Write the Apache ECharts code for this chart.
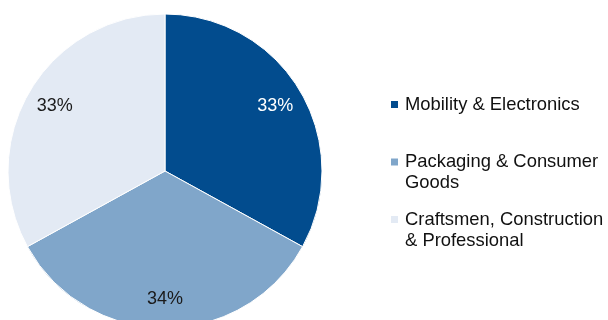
<!DOCTYPE html>
<html>
<head>
<meta charset="utf-8">
<script src="https://cdn.jsdelivr.net/npm/echarts@6/dist/echarts.min.js"></script>
<style>
  html, body { margin: 0; padding: 0; background: #fff; }
  #chart { width: 608px; height: 320px; }
</style>
</head>
<body>
<div id="chart"></div>
<script>
// Segment share of the business, in percent
const segments = ['Mobility & Electronics', 'Packaging & Consumer Goods', 'Craftsmen, Construction & Professional'];
const shares = [33, 34, 33];
// Legend text broken over two lines
const legendLines = [
  ['Mobility & Electronics', ' '],
  ['Packaging & Consumer', 'Goods'],
  ['Craftsmen, Construction', '& Professional']
];
const colors = ['#024c8e', '#80a6ca', '#e3eaf4'];
const labelColors = ['#ffffff', '#1a1a1a', '#1a1a1a'];

const FONT = 'Liberation Sans, Arial, Helvetica, sans-serif';
const FS = 18.4;

function sliceData(withLabels) {
  return segments.map((name, i) => ({
    name: name,
    value: shares[i],
    itemStyle: withLabels ? { color: 'rgba(0,0,0,0)', borderWidth: 0 } : { color: colors[i] },
    label: { color: labelColors[i] }
  }));
}

const rich = {
  t: { fontFamily: FONT, fontSize: FS, color: '#111', lineHeight: 21 },
  gap: { width: 7, lineHeight: 21 },
  ind: { width: 14, lineHeight: 21 }
};
colors.forEach((c, i) => {
  rich['sq' + i] = { width: 7, height: 7, backgroundColor: c, lineHeight: 21 };
});

const chart = echarts.init(document.getElementById('chart'), null, { renderer: 'canvas' });
chart.setOption({
  animation: false,
  backgroundColor: '#ffffff',
  legend: {
    orient: 'vertical',
    left: 386,
    top: 94,
    padding: 0,
    itemGap: 15.5,
    itemWidth: 0,
    itemHeight: 14,
    icon: 'none',
    selectedMode: false,
    data: segments,
    formatter: function (name) {
      const i = segments.indexOf(name);
      const l = legendLines[i];
      return '{sq' + i + '|}{gap|}{t|' + l[0] + '}\n{ind|}{t|' + l[1] + '}';
    },
    textStyle: { fontFamily: FONT, fontSize: FS, lineHeight: 21, rich: rich }
  },
  series: [
    {
      type: 'pie',
      center: [165, 171],
      radius: [0, 157],
      startAngle: 90,
      clockwise: true,
      silent: true,
      label: { show: false },
      labelLine: { show: false },
      itemStyle: { borderColor: '#ffffff', borderWidth: 1 },
      data: sliceData(false)
    },
    {
      // transparent ring that only carries the percentage labels
      type: 'pie',
      center: [165, 171],
      radius: [93, 157],
      startAngle: 90,
      clockwise: true,
      silent: true,
      label: {
        show: true,
        position: 'inside',
        formatter: '{c}%',
        fontFamily: FONT,
        fontSize: 18
      },
      labelLine: { show: false },
      data: sliceData(true)
    }
  ]
});
</script>
</body>
</html>
